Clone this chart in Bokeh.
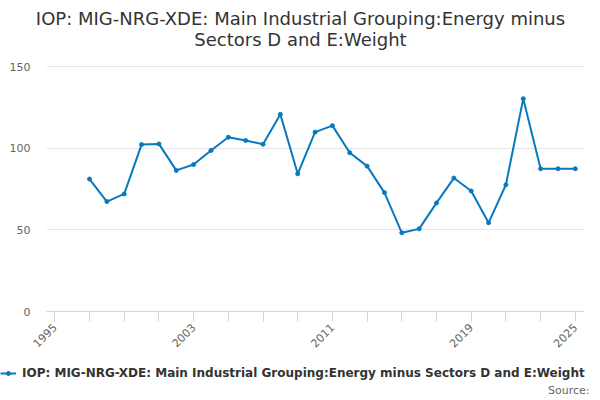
from bokeh.plotting import figure
from bokeh.models import Range1d, FixedTicker, Legend, LegendItem, ColumnDataSource, Label, Grid
from bokeh.embed import file_html
from bokeh.resources import INLINE
import math

# ---- data ----
years = list(range(1997, 2026))
values = [81.1, 67.3, 72.0, 102.2, 102.6, 86.4, 90.0, 98.6, 106.7, 104.7,
          102.4, 120.7, 84.3, 109.8, 113.8, 97.2, 89.0, 72.8, 48.2, 50.6,
          66.5, 81.7, 73.8, 54.3, 77.6, 130.3, 87.4, 87.4, 87.4]
x_tick_values = list(range(1995, 2026, 2))
x_tick_labels = {1995: "1995", 2003: "2003", 2011: "2011", 2019: "2019", 2025: "2025"}
y_tick_values = [0, 50, 100, 150]
title_lines = ["IOP: MIG-NRG-XDE: Main Industrial Grouping:Energy minus",
               "Sectors D and E:Weight"]
series_name = "IOP: MIG-NRG-XDE: Main Industrial Grouping:Energy minus Sectors D and E:Weight"
source_text = "Source:"

COLOR = "#0879bf"
FONT = "DejaVu Sans"
W, H = 600, 400

# plot area (data extents) and full-canvas ranges
X0, X1 = 1994.52, 2025.53
Y0, Y1 = 0, 150
PX_LEFT, PX_RIGHT, PX_TOP, PX_BOTTOM = 46, 584, 66, 311
xs = (X1 - X0) / (PX_RIGHT - PX_LEFT)
ys = (Y1 - Y0) / (PX_BOTTOM - PX_TOP)
x_range = Range1d(X0 - PX_LEFT * xs, X1 + (W - PX_RIGHT) * xs)
y_range = Range1d(Y0 - (H - PX_BOTTOM) * ys, Y1 + PX_TOP * ys)

src = ColumnDataSource(data=dict(x=years, y=values))
p = figure(width=W, height=H, output_backend="svg", toolbar_location=None,
           x_range=x_range, y_range=y_range,
           min_border_left=0, min_border_right=0, min_border_top=0, min_border_bottom=0)
p.outline_line_color = None

# grid
p.xgrid.grid_line_color = None
p.ygrid.grid_line_color = "#e6e6e6"
p.ygrid.ticker = FixedTicker(ticks=y_tick_values)
p.ygrid.bounds = (Y0, Y1)
if "cross_bounds" in Grid.properties():
    p.ygrid.cross_bounds = (X0, X1)

r_line = p.line("x", "y", source=src, line_color=COLOR, line_width=2)
r_pts = p.scatter("x", "y", source=src, size=4, fill_color=COLOR, line_color=COLOR)

# x axis, drawn at y = 0
xa = p.xaxis[0]
xa.fixed_location = Y0
xa.bounds = (X0, X1)
xa.ticker = FixedTicker(ticks=x_tick_values, minor_ticks=[])
xa.major_label_overrides = {t: x_tick_labels.get(t, "") for t in x_tick_values}
xa.major_label_orientation = math.pi / 4
xa.axis_line_color = "#ccd6eb"
xa.major_tick_line_color = "#ccd6eb"
xa.major_tick_out = 10
xa.major_tick_in = 0
xa.minor_tick_line_color = None
xa.major_label_text_font = FONT
xa.major_label_text_font_size = "11px"
xa.major_label_text_color = "#666666"
xa.major_label_standoff = 4

# y axis, drawn at left edge of plot area
ya = p.yaxis[0]
ya.fixed_location = X0
ya.bounds = (Y0, Y1)
ya.ticker = FixedTicker(ticks=y_tick_values, minor_ticks=[])
ya.axis_line_color = None
ya.major_tick_line_color = None
ya.minor_tick_line_color = None
ya.major_tick_out = 0
ya.major_tick_in = 0
ya.major_label_standoff = 16
ya.major_label_text_font = FONT
ya.major_label_text_font_size = "11px"
ya.major_label_text_color = "#666666"

# title
for txt, yy in zip(title_lines, [H - 17.7, H - 38.5]):
    p.add_layout(Label(x=W / 2, y=yy, x_units="screen", y_units="screen", text=txt,
                       text_align="center", text_baseline="middle",
                       text_font=FONT, text_font_size="18px", text_color="#333333"))

# legend (uses the series renderers)
legend = Legend(items=[LegendItem(label=series_name, renderers=[r_line, r_pts])],
                location=(0, 18.7), orientation="horizontal",
                padding=0, margin=0, spacing=0,
                glyph_width=16, glyph_height=10, label_height=16,
                label_standoff=6, border_line_color=None, background_fill_alpha=0,
                label_text_font=FONT, label_text_font_size="12px",
                label_text_font_style="bold", label_text_color="#333333")
p.add_layout(legend, "center")

p.add_layout(Label(x=589, y=10, x_units="screen", y_units="screen", text=source_text,
                   text_align="right", text_baseline="middle",
                   text_font=FONT, text_font_size="11px", text_color="#666666"))

open("out.html", "w").write(file_html(p, INLINE))
